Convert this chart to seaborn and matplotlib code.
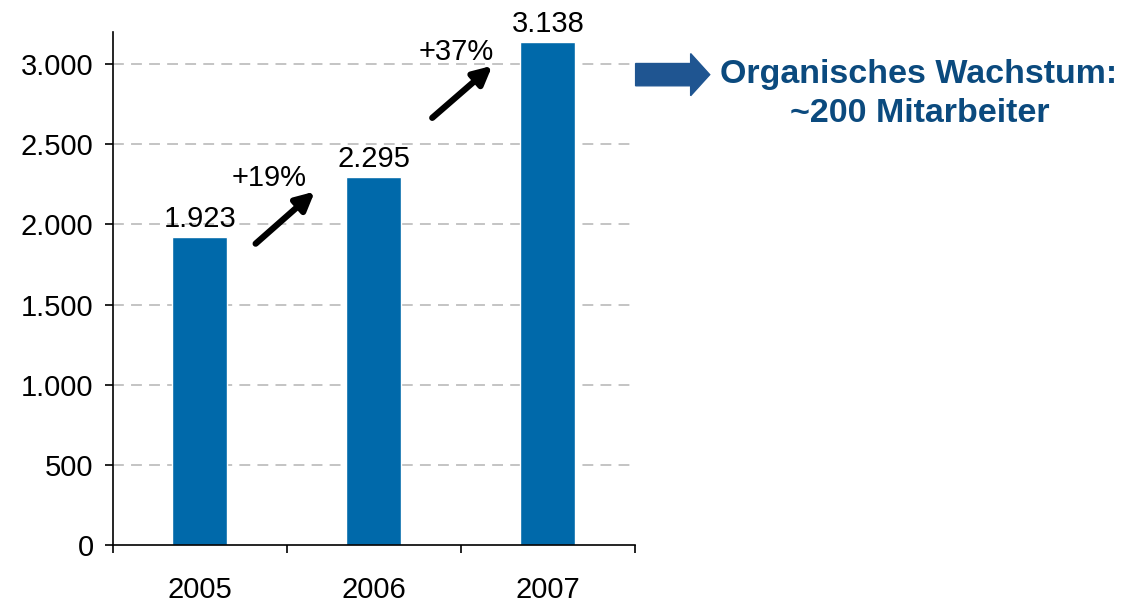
import numpy as np
import seaborn as sns
import matplotlib.pyplot as plt
from matplotlib.patches import FancyArrow

# data
years = ["2005", "2006", "2007"]
employees = [1923, 2295, 3138]
value_labels = ["1.923", "2.295", "3.138"]
growth_labels = ["+19%", "+37%"]
yticks = [0, 500, 1000, 1500, 2000, 2500, 3000]
ytick_labels = ["0", "500", "1.000", "1.500", "2.000", "2.500", "3.000"]
note_lines = ["Organisches Wachstum:", "~200 Mitarbeiter"]

sns.set_style("white")
plt.rcParams['font.family'] = ['Liberation Sans', 'DejaVu Sans']
plt.rcParams['text.color'] = 'black'
plt.rcParams['xtick.color'] = 'black'
plt.rcParams['ytick.color'] = 'black'

fig = plt.figure(figsize=(11.23, 6.02), dpi=100)
ax = fig.add_axes([0.1006, 0.0947, 0.4648, 0.852])

sns.barplot(x=years, y=employees, color="#0069AA", saturation=1, width=0.316, ax=ax)

ax.set_ylim(0, 3200)
ax.set_xlim(-0.5, 2.5)
ax.set_yticks(yticks)
ax.set_yticklabels(ytick_labels, fontsize=21)
for y in yticks[1:]:
    ax.axhline(y, color="#BFBFBF", lw=1.3, ls=(0, (6, 4)), zorder=0)

# category boundaries as major ticks, labels on minor ticks
ax.set_xticks([-0.5, 0.5, 1.5, 2.5])
ax.set_xticklabels(["", "", "", ""])
ax.set_xticks([0, 1, 2], minor=True)
ax.set_xticklabels(years, minor=True, fontsize=21)
ax.tick_params(axis="x", which="major", direction="out", length=6, width=1.2, bottom=True)
ax.tick_params(axis="x", which="minor", length=0, pad=22)
ax.tick_params(axis="y", direction="out", length=6, width=1.2, left=True, pad=8)

for side in ["top", "right"]:
    ax.spines[side].set_visible(False)
for side in ["left", "bottom"]:
    ax.spines[side].set_color("black")
    ax.spines[side].set_linewidth(1.2)
ax.set_xlabel("")
ax.set_ylabel("")

# value labels
for i, v in enumerate(employees):
    ax.text(i, v + 25, value_labels[i], ha="center", va="bottom", fontsize=21)

# growth arrows
arrow_style = dict(arrowstyle="-|>,head_length=1.1,head_width=0.55", color="black",
                   lw=4.5, shrinkA=0, shrinkB=0)
ax.annotate("", xy=(0.66, 2205), xytext=(0.32, 1880), arrowprops=arrow_style)
ax.annotate("", xy=(1.68, 2990), xytext=(1.335, 2665), arrowprops=arrow_style)
ax.text(0.40, 2290, growth_labels[0], ha="center", va="center", fontsize=21)
ax.text(1.475, 3075, growth_labels[1], ha="center", va="center", fontsize=21)

# note on the right
fig.patches.append(FancyArrow(0.566, 0.876, 0.066, 0, width=0.037, head_width=0.07,
                              head_length=0.017, length_includes_head=True,
                              color="#1F5591", transform=fig.transFigure, figure=fig))
fig.text(0.818, 0.876, note_lines[0], ha="center", va="center", fontsize=24.5,
         fontweight="bold", color="#0B4A7E")
fig.text(0.819, 0.812, note_lines[1], ha="center", va="center", fontsize=24.5,
         fontweight="bold", color="#0B4A7E")

plt.savefig("out.png", dpi=100)
